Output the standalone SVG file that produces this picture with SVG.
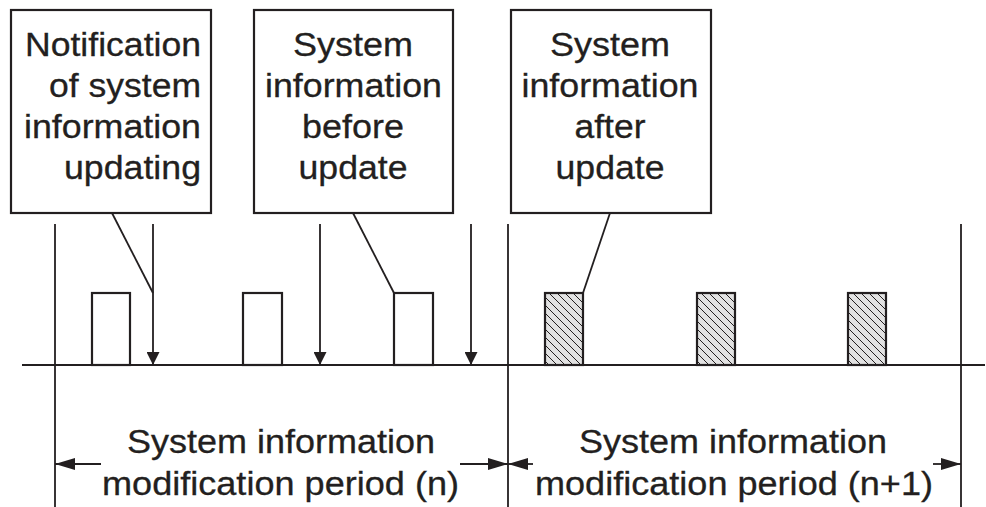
<svg xmlns="http://www.w3.org/2000/svg" width="986" height="507" viewBox="0 0 986 507">
<style>
.box{fill:#fff;stroke:#231f20;stroke-width:2.2}
.ln{stroke:#231f20;stroke-width:1.8;fill:none}
.blk{fill:#fff;stroke:#231f20;stroke-width:2.2}
.hat{fill:url(#hatch);stroke:#231f20;stroke-width:2.2}
text{font-family:"Liberation Sans",Arial,sans-serif;font-size:32.5px;fill:#231f20;stroke:#231f20;stroke-width:0.3}
.r{text-anchor:end}
.c{text-anchor:middle}
</style>
<defs>
<pattern id="hatch" patternUnits="userSpaceOnUse" width="8" height="8">
<rect width="8" height="8" fill="#e2e2e2"/>
<path d="M-2,-2 L10,10 M-2,6 L2,10 M6,-2 L10,2" stroke="#231f20" stroke-width="1"/>
</pattern>
<marker id="ad" markerUnits="userSpaceOnUse" markerWidth="13" markerHeight="13" refX="6.5" refY="13" orient="0" viewBox="0 0 13 13">
<path d="M0,0 L13,0 L6.5,13 Z" fill="#231f20"/>
</marker>
<marker id="ah" markerUnits="userSpaceOnUse" markerWidth="20" markerHeight="12" refX="20" refY="6" orient="auto" viewBox="0 0 20 12">
<path d="M0,0 L20,6 L0,12 Z" fill="#231f20"/>
</marker>
</defs>

<g id="connectors">
<line class="ln" x1="22" y1="365" x2="985" y2="365"/>
<line class="ln" x1="55" y1="224" x2="55" y2="507"/>
<line class="ln" x1="508" y1="224" x2="508" y2="507"/>
<line class="ln" x1="961" y1="224" x2="961" y2="507"/>
<line class="ln" x1="153" y1="224" x2="153" y2="365" marker-end="url(#ad)"/>
<line class="ln" x1="320" y1="224" x2="320" y2="365" marker-end="url(#ad)"/>
<line class="ln" x1="471" y1="224" x2="471" y2="365" marker-end="url(#ad)"/>
<line class="ln" x1="112" y1="213" x2="153" y2="293"/>
<line class="ln" x1="353" y1="213" x2="394" y2="293"/>
<line class="ln" x1="610" y1="213" x2="583" y2="293"/>
<line class="ln" x1="101" y1="464" x2="55" y2="464" marker-end="url(#ah)"/>
<line class="ln" x1="460" y1="464" x2="508" y2="464" marker-end="url(#ah)"/>
<line class="ln" x1="533" y1="464" x2="508" y2="464" marker-end="url(#ah)"/>
<line class="ln" x1="933" y1="464" x2="961" y2="464" marker-end="url(#ah)"/>
</g>

<g id="blocks-before">
<rect class="blk" x="92" y="293" width="38" height="72"/>
<rect class="blk" x="243" y="293" width="39" height="72"/>
<rect class="blk" x="394" y="293" width="39" height="72"/>
</g>
<g id="blocks-after">
<rect class="hat" x="545" y="293" width="38" height="72"/>
<rect class="hat" x="697" y="293" width="38" height="72"/>
<rect class="hat" x="848" y="293" width="38" height="72"/>
</g>

<g id="note-notification">
<rect class="box" x="11" y="10" width="200" height="203"/>
<text class="r" x="201" y="56" textLength="176" lengthAdjust="spacingAndGlyphs">Notification</text>
<text class="r" x="201" y="97" textLength="152" lengthAdjust="spacingAndGlyphs">of system</text>
<text class="r" x="201" y="138" textLength="177" lengthAdjust="spacingAndGlyphs">information</text>
<text class="r" x="201" y="179" textLength="137" lengthAdjust="spacingAndGlyphs">updating</text>
</g>

<g id="note-before">
<rect class="box" x="254" y="10" width="199" height="203"/>
<text class="c" x="353" y="56" textLength="120" lengthAdjust="spacingAndGlyphs">System</text>
<text class="c" x="353.5" y="97" textLength="177" lengthAdjust="spacingAndGlyphs">information</text>
<text class="c" x="353" y="138" textLength="102" lengthAdjust="spacingAndGlyphs">before</text>
<text class="c" x="353" y="179" textLength="109" lengthAdjust="spacingAndGlyphs">update</text>
</g>

<g id="note-after">
<rect class="box" x="511" y="10" width="200" height="203"/>
<text class="c" x="610" y="56" textLength="120" lengthAdjust="spacingAndGlyphs">System</text>
<text class="c" x="610" y="97" textLength="177" lengthAdjust="spacingAndGlyphs">information</text>
<text class="c" x="610" y="138" textLength="71" lengthAdjust="spacingAndGlyphs">after</text>
<text class="c" x="610" y="179" textLength="109" lengthAdjust="spacingAndGlyphs">update</text>
</g>

<g id="period-n">
<text class="c" x="281" y="453" textLength="308" lengthAdjust="spacingAndGlyphs">System information</text>
<text class="c" x="280.5" y="495" textLength="357" lengthAdjust="spacingAndGlyphs">modification period (n)</text>
</g>
<g id="period-n1">
<text class="c" x="733" y="453" textLength="308" lengthAdjust="spacingAndGlyphs">System information</text>
<text class="c" x="734" y="495" textLength="398" lengthAdjust="spacingAndGlyphs">modification period (n+1)</text>
</g>
</svg>
